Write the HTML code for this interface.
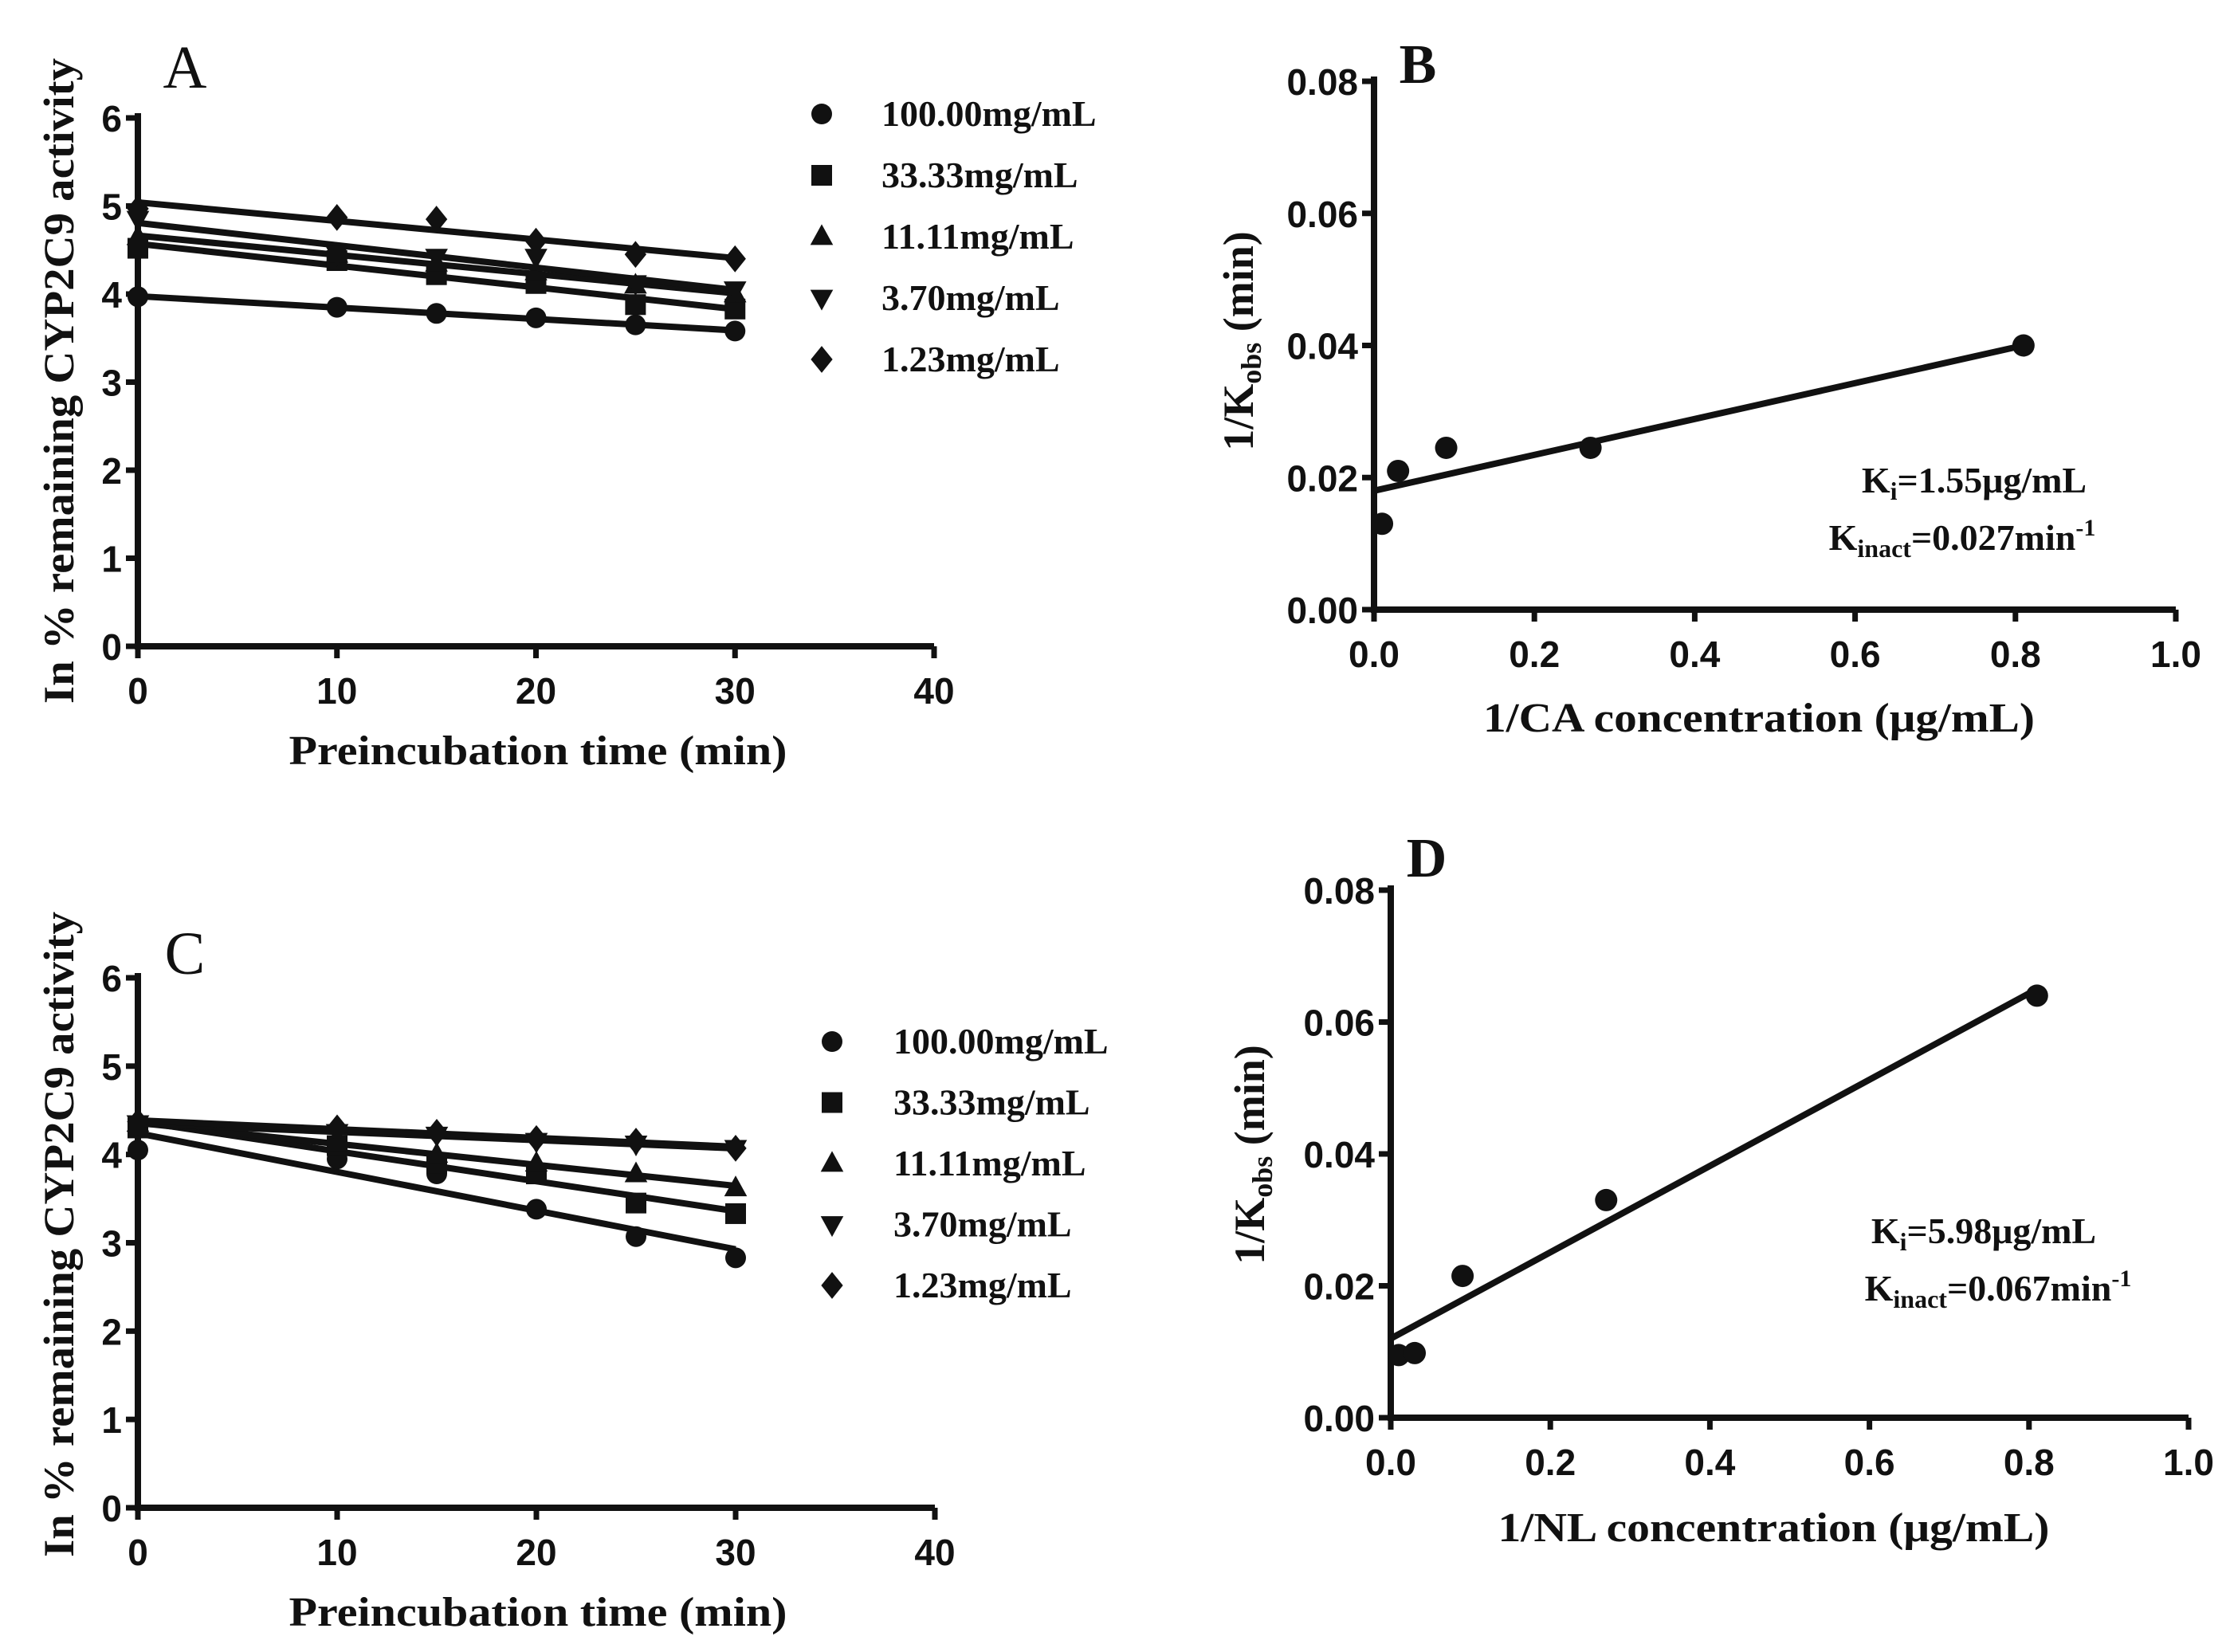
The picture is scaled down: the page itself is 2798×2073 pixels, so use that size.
<!DOCTYPE html>
<html><head><meta charset="utf-8"><style>
html,body{margin:0;padding:0;background:#fff;}
svg{display:block;}
.tick{font-family:"Liberation Sans",sans-serif;font-weight:bold;font-size:46px;fill:#111;}
.ser{font-family:"Liberation Serif",serif;font-weight:bold;fill:#111;}
</style></head><body>
<svg id="fig" width="2798" height="2073" viewBox="0 0 2798 2073" xmlns="http://www.w3.org/2000/svg"></svg>
<script>
// ---- data ----
const timePoints = [0, 10, 15, 20, 25, 30];
const seriesNames = ["100.00mg/mL", "33.33mg/mL", "11.11mg/mL", "3.70mg/mL", "1.23mg/mL"];
const seriesMarkers = ["circle", "square", "triangle", "tri-down", "diamond"];
const aVals100 = [3.97, 3.85, 3.78, 3.73, 3.65, 3.58];
const aVals33 = [4.52, 4.38, 4.22, 4.12, 3.88, 3.83];
const aVals11 = [4.65, 4.45, 4.35, 4.25, 4.10, 4.00];
const aVals37 = [4.85, 4.45, 4.42, 4.42, 4.12, 4.05];
const aVals123 = [4.97, 4.87, 4.85, 4.60, 4.45, 4.40];
const cVals100 = [4.05, 3.95, 3.78, 3.38, 3.07, 2.83];
const cVals33 = [4.30, 4.10, 3.90, 3.78, 3.45, 3.33];
const cVals11 = [4.35, 4.12, 4.00, 3.90, 3.78, 3.62];
const cVals37 = [4.35, 4.25, 4.22, 4.15, 4.12, 4.07];
const cVals123 = [4.37, 4.30, 4.25, 4.18, 4.15, 4.07];
const timeTicks = [0, 10, 20, 30, 40];
const activityTicks = [0, 1, 2, 3, 4, 5, 6];
const invConc = [0.01, 0.03, 0.09, 0.27, 0.81];
const bInvKobs = [0.013, 0.021, 0.0245, 0.0245, 0.040];
const bFit = [0.018, 0.040]; // at x=0 and x=0.81
const dInvKobs = [0.0095, 0.0098, 0.0215, 0.033, 0.064];
const dFit = [0.012, 0.065];
const fitX = [0, 0.81];
const concTicks = [0, 0.2, 0.4, 0.6, 0.8, 1.0];
const concTickLabels = ["0.0", "0.2", "0.4", "0.6", "0.8", "1.0"];
const kobsTicks = [0, 0.02, 0.04, 0.06, 0.08];
const kobsTickLabels = ["0.00", "0.02", "0.04", "0.06", "0.08"];

const NS = "http://www.w3.org/2000/svg";
const svg = document.getElementById('fig');
function el(tag, attrs, parent, text) {
  const e = document.createElementNS(NS, tag);
  for (const k in attrs) e.setAttribute(k, attrs[k]);
  if (text !== undefined) e.textContent = text;
  (parent || svg).appendChild(e);
  return e;
}
function marker(g, type, x, y, r) {
  let m;
  if (type === 'circle') m = el('circle', {cx: x, cy: y, r: r, fill: '#111'}, g);
  else if (type === 'square') m = el('rect', {x: x - r, y: y - r, width: 2 * r, height: 2 * r, fill: '#111'}, g);
  else if (type === 'triangle') m = el('polygon', {points: `${x},${y - r * 1.2} ${x - r * 1.1},${y + r * 0.8} ${x + r * 1.1},${y + r * 0.8}`, fill: '#111'}, g);
  else if (type === 'tri-down') m = el('polygon', {points: `${x},${y + r * 1.2} ${x - r * 1.1},${y - r * 0.8} ${x + r * 1.1},${y - r * 0.8}`, fill: '#111'}, g);
  else m = el('polygon', {points: `${x},${y - r * 1.3} ${x + r * 1.05},${y} ${x},${y + r * 1.3} ${x - r * 1.05},${y}`, fill: '#111'}, g);
  
  
  return m;
}
function linfit(xs, ys) {
  const n = xs.length; let sx = 0, sy = 0, sxx = 0, sxy = 0;
  for (let i = 0; i < n; i++) { sx += xs[i]; sy += ys[i]; sxx += xs[i] * xs[i]; sxy += xs[i] * ys[i]; }
  const b = (n * sxy - sx * sy) / (n * sxx - sx * sx);
  return {a: (sy - b * sx) / n, b: b};
}
function axes(g, x0, x1, y0, y1, sx, sy, xt, xtl, yt, ytl, xlabY, ylabX) {
  const ax = el('path', {d: `M${x0},${y1 - 6} L${x0},${y0} L${x1},${y0}`, stroke: '#111', 'stroke-width': 8, fill: 'none'}, g);
  
  
  xt.forEach((v, i) => {
    const x = sx(v);
    el('line', {x1: x, y1: y0, x2: x, y2: y0 + 15, stroke: '#111', 'stroke-width': 7}, g);
    const t = el('text', {x: x, y: xlabY, class: 'tick', 'text-anchor': 'middle'}, g, xtl[i]);
    
    
  });
  yt.forEach((v, i) => {
    const y = sy(v);
    el('line', {x1: x0 - 15, y1: y, x2: x0, y2: y, stroke: '#111', 'stroke-width': 7}, g);
    const t = el('text', {x: ylabX, y: y + 17, class: 'tick', 'text-anchor': 'end'}, g, ytl[i]);
    
    
  });
}

function timePanel(name, box, vals, letter, legend, ytitleCY) {
  const g = el('g', {}, svg);
  
  
  const sx = v => box.x0 + (v / 40) * (box.x1 - box.x0);
  const sy = v => box.y0 - (v / 6) * (box.y0 - box.y1);
  axes(g, box.x0, box.x1, box.y0, box.y1, sx, sy, timeTicks, timeTicks.map(String), activityTicks, activityTicks.map(String), box.y0 + 72, box.x0 - 20);
  vals.forEach((ys, si) => {
    const f = linfit(timePoints, ys);
    const ln = el('line', {x1: sx(0), y1: sy(f.a), x2: sx(30), y2: sy(f.a + 30 * f.b), stroke: '#111', 'stroke-width': 8}, g);
    
    
    ys.forEach((v, i) => marker(g, seriesMarkers[si], sx(timePoints[i]), sy(v), 13));
  });
  seriesNames.forEach((s, i) => {
    const y = legend.y + i * legend.dy;
    marker(g, seriesMarkers[i], legend.mx, y, 13);
    const t = el('text', {x: legend.tx, y: y + 15, class: 'ser', 'font-size': 46}, g, s);
    
    
  });
  const L = el('text', {x: 232, y: letter, class: 'ser', 'font-size': 76, 'text-anchor': 'middle', style: 'font-weight:normal'}, g, name === 'panel-a' ? 'A' : 'C');
  
  
  const xt = el('text', {x: 675, y: box.y0 + 148, class: 'ser', 'font-size': 52, 'text-anchor': 'middle', textLength: 625, lengthAdjust: 'spacingAndGlyphs'}, g, 'Preincubation time (min)');
  
  
  const yt = el('text', {x: 0, y: 0, class: 'ser', 'font-size': 54, 'text-anchor': 'middle', textLength: 810, lengthAdjust: 'spacingAndGlyphs', transform: `translate(92,${ytitleCY}) rotate(-90)`}, g, 'In % remaining CYP2C9 activity');
  
  
}

function kobsPanel(name, box, ys, fit, letterXY, letter, xtitle, xtitleY, ytitleXY, ann) {
  const g = el('g', {}, svg);
  
  
  const sx = v => box.x0 + v * (box.x1 - box.x0);
  const sy = v => box.y0 - (v / 0.08) * (box.y0 - box.y1);
  axes(g, box.x0, box.x1, box.y0, box.y1, sx, sy, concTicks, concTickLabels, kobsTicks, kobsTickLabels, box.y0 + 72, box.x0 - 20);
  const ln = el('line', {x1: sx(fitX[0]), y1: sy(fit[0]), x2: sx(fitX[1]), y2: sy(fit[1]), stroke: '#111', 'stroke-width': 8}, g);
  
  
  invConc.forEach((x, i) => marker(g, 'circle', sx(x), sy(ys[i]), 14));
  const L = el('text', {x: letterXY[0], y: letterXY[1], class: 'ser', 'font-size': 70, 'text-anchor': 'middle'}, g, letter);
  
  
  const xt = el('text', {x: (box.x0 + box.x1) / 2 - 20, y: xtitleY, class: 'ser', 'font-size': 52, 'text-anchor': 'middle', textLength: 692, lengthAdjust: 'spacingAndGlyphs'}, g, xtitle);
  
  
  const yt = el('text', {x: 0, y: 0, class: 'ser', 'font-size': 54, 'text-anchor': 'middle', transform: `translate(${ytitleXY[0]},${ytitleXY[1]}) rotate(-90)`}, g);
  
  
  el('tspan', {}, yt, '1/K');
  el('tspan', {'font-size': 36, dy: 10}, yt, 'obs');
  el('tspan', {dy: -10}, yt, ' (min)');
  const a1 = el('text', {x: ann[0], y: ann[1], class: 'ser', 'font-size': 46, 'text-anchor': 'middle'}, g);
  
  
  el('tspan', {}, a1, 'K');
  el('tspan', {'font-size': 32, dy: 9}, a1, 'i');
  el('tspan', {dy: -9}, a1, '=' + ann[4] + 'μg/mL');
  const a2 = el('text', {x: ann[2], y: ann[3], class: 'ser', 'font-size': 46, 'text-anchor': 'middle'}, g);
  
  
  el('tspan', {}, a2, 'K');
  el('tspan', {'font-size': 32, dy: 9}, a2, 'inact');
  el('tspan', {dy: -9}, a2, '=' + ann[5] + 'min');
  el('tspan', {'font-size': 30, dy: -18}, a2, '-1');
}

timePanel('panel-a', {x0: 173, x1: 1172, y0: 811, y1: 148}, [aVals100, aVals33, aVals11, aVals37, aVals123], 110,
  {mx: 1031, tx: 1106, y: 143, dy: 77}, 478);
timePanel('panel-c', {x0: 173, x1: 1173, y0: 1892, y1: 1227}, [cVals100, cVals33, cVals11, cVals37, cVals123], 1222,
  {mx: 1044, tx: 1121, y: 1307, dy: 76.5}, 1549);
kobsPanel('panel-b', {x0: 1724, x1: 2730, y0: 765, y1: 102}, bInvKobs, bFit, [1779, 104], 'B',
  '1/CA concentration (μg/mL)', 918, [1572, 428], [2477, 618, 2462, 690, '1.55', '0.027']);
kobsPanel('panel-d', {x0: 1745, x1: 2746, y0: 1779, y1: 1117}, dInvKobs, dFit, [1790, 1100], 'D',
  '1/NL concentration (μg/mL)', 1934, [1586, 1449], [2489, 1560, 2507, 1632, '5.98', '0.067']);
</script>
</body></html>
